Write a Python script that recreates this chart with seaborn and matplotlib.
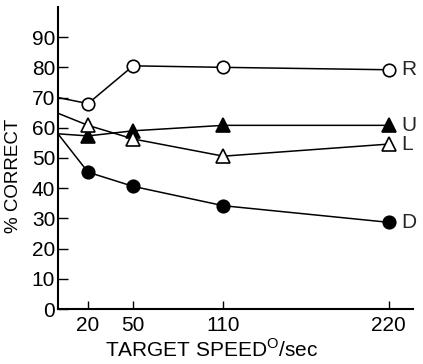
import matplotlib
matplotlib.use("Agg")
import matplotlib.pyplot as plt
import seaborn as sns
import pandas as pd

# Target speed (deg/sec); the first entry is the line origin at the axis
speeds = [0, 20, 50, 110, 220]
tick_speeds = [20, 50, 110, 220]

# Percent correct per condition
pct_R = [70, 68, 80.5, 80, 79.2]
pct_U = [58, 57.3, 59, 60.8, 60.8]
pct_L = [64.8, 60.8, 56.3, 50.6, 54.6]
pct_D = [58, 45.3, 40.6, 34.2, 28.7]

series_names = ["R", "U", "L", "D"]
series_values = [pct_R, pct_U, pct_L, pct_D]

sns.set_theme(style="ticks")
plt.rcParams["font.family"] = ["Liberation Sans", "DejaVu Sans"]
plt.rcParams["mathtext.fontset"] = "custom"
plt.rcParams["mathtext.rm"] = "Liberation Sans"

df = pd.DataFrame({
    "speed": speeds * len(series_names),
    "pct": [v for vals in series_values for v in vals],
    "cond": [n for n in series_names for _ in speeds],
})

fig = plt.figure(figsize=(4.23, 3.64), dpi=100)
ax = fig.add_axes([0.137, 0.151, 0.839, 0.830])

styles = {
    "R": dict(marker="o", mfc="white", ms=9),
    "U": dict(marker="^", mfc="black", ms=10),
    "L": dict(marker="^", mfc="white", ms=10),
    "D": dict(marker="o", mfc="black", ms=9),
}

for name in series_names:
    sub = df[df["cond"] == name]
    st = styles[name]
    sns.lineplot(data=sub, x="speed", y="pct", ax=ax, color="black",
                 linewidth=1.1, marker=st["marker"], markersize=st["ms"],
                 markerfacecolor=st["mfc"], markeredgecolor="black",
                 markeredgewidth=1.2, markevery=[1, 2, 3, 4], legend=False,
                 zorder=3)
    ax.annotate(name, xy=(sub["speed"].iloc[-1], sub["pct"].iloc[-1]),
                xytext=(9, 0), textcoords="offset points",
                ha="left", va="center", fontsize=15)

ax.set_xlim(0, 236)
ax.set_ylim(0, 100)
ax.set_xticks(tick_speeds)
ax.set_yticks(range(0, 100, 10))
ax.tick_params(axis="both", direction="in", labelsize=15, width=1.0,
               color="black", labelcolor="black")
ax.tick_params(axis="y", length=7, pad=2)
ax.tick_params(axis="x", length=6, pad=5)

for side in ["top", "right"]:
    ax.spines[side].set_visible(False)
for side in ["left", "bottom"]:
    ax.spines[side].set_linewidth(1.5)
    ax.spines[side].set_color("black")

ax.set_xlabel(r"TARGET SPEED$^{\rm O}$/sec", fontsize=15, color="black")
ax.set_ylabel("% CORRECT", fontsize=13.5, color="black")
ax.xaxis.set_label_coords(0.434, -0.098)
ax.yaxis.set_label_coords(-0.10, 0.44)
ax.xaxis.label.set_va("top")

fig.savefig("out.png", dpi=100)
